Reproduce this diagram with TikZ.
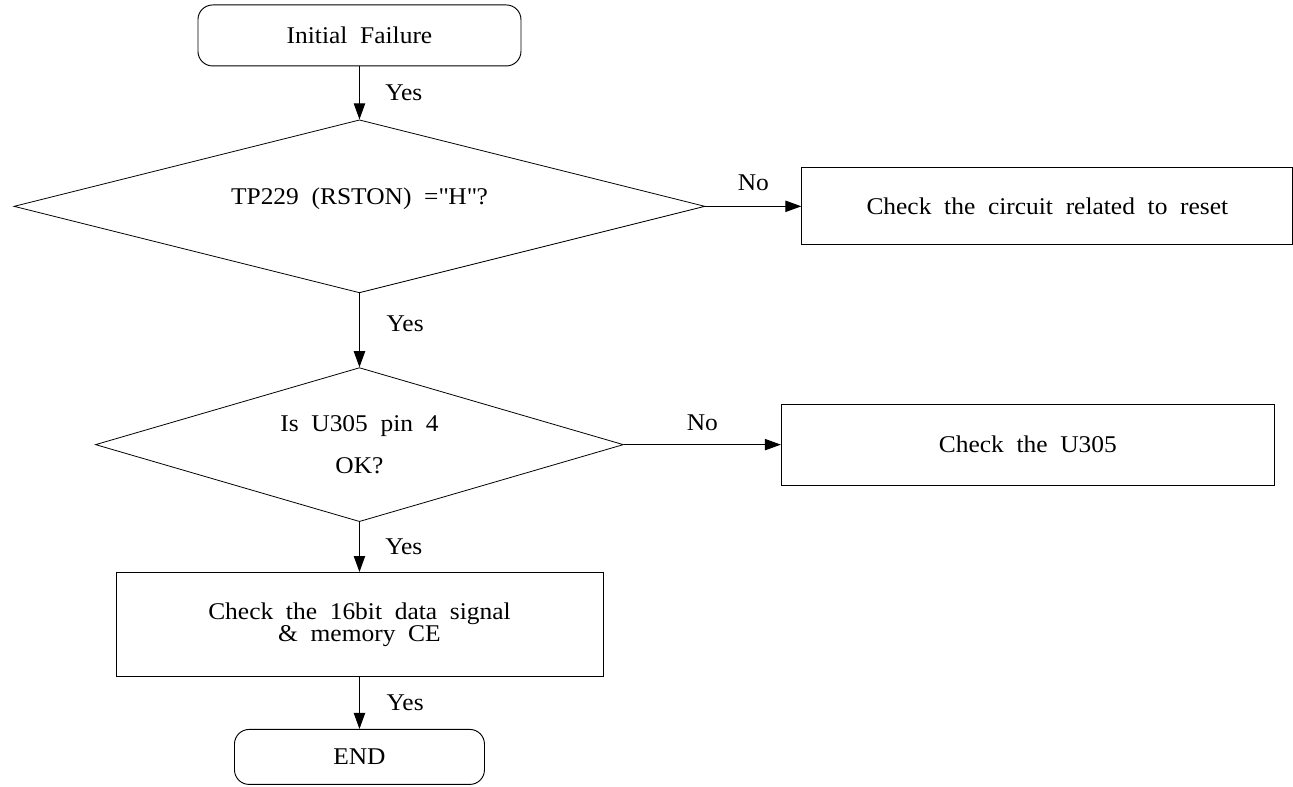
\documentclass[tikz,border=0pt]{standalone}
\usepackage{fontspec}
\setmainfont[FakeStretch=1.06,WordSpace={2}]{Liberation Serif}
\usepackage{tikz}
\usetikzlibrary{arrows.meta,positioning,shapes.geometric}

\begin{document}
\begin{tikzpicture}[
  font=\fontsize{18}{20}\selectfont,
  term/.style={
    draw, rounded corners=11pt, line width=0.7pt,
    minimum width=242.25pt, minimum height=45.75pt
  },
  decide/.style={
    draw, diamond, inner sep=0pt, line width=0.6pt, align=center
  },
  act/.style={
    draw, line width=0.7pt, align=center
  },
  arrow/.style={-{Triangle[length=12pt,width=8.5pt]}, line width=0.8pt},
  lbl/.style={inner sep=0pt}
]
\useasboundingbox (0,0) rectangle (969.75pt,-590.25pt);

\node[term] (init) at (269.6pt,-26.6pt) {Initial Failure};
\node[decide, aspect=3.99, minimum width=518.25pt, minimum height=129.75pt,
      below=39.75pt of init] (rst) {\raisebox{1.5pt}[0pt][0pt]{TP229 (RSTON) =\textquotedbl H\textquotedbl?}};
\node[act, minimum width=368.25pt, minimum height=57.75pt,
      right=72pt of rst] (rstbox) {Check the circuit related to reset};
\node[decide, aspect=3.43, minimum width=396pt, minimum height=115.5pt,
      below=55.5pt of rst] (pin) {Is U305 pin 4\\[11.5pt]OK?};
\node[act, minimum width=369.75pt, minimum height=60.75pt,
      right=117.75pt of pin] (ubox) {Check the U305};
\node[act, minimum width=365.25pt, minimum height=78pt,
      font=\fontsize{18}{16.5}\selectfont,
      below=37.5pt of pin] (databox) {Check the 16bit data signal\\\& memory CE};
\node[term, minimum width=187.5pt, minimum height=41.25pt,
      below=39pt of databox] (fin) {END};

\draw[arrow] (init) -- node[lbl, midway, right=19pt] {Yes} (rst);
\draw[arrow] (rst) -- node[lbl, midway, above=11pt] {No} (rstbox);
\draw[arrow] (rst) -- node[lbl, midway, right=20pt, yshift=5pt] {Yes} (pin);
\draw[arrow] (pin) -- node[lbl, midway, above=10pt] {No} (ubox);
\draw[arrow] (pin) -- node[lbl, midway, right=19pt] {Yes} (databox);
\draw[arrow] (databox) -- node[lbl, midway, right=20pt] {Yes} (fin);
\end{tikzpicture}
\end{document}
